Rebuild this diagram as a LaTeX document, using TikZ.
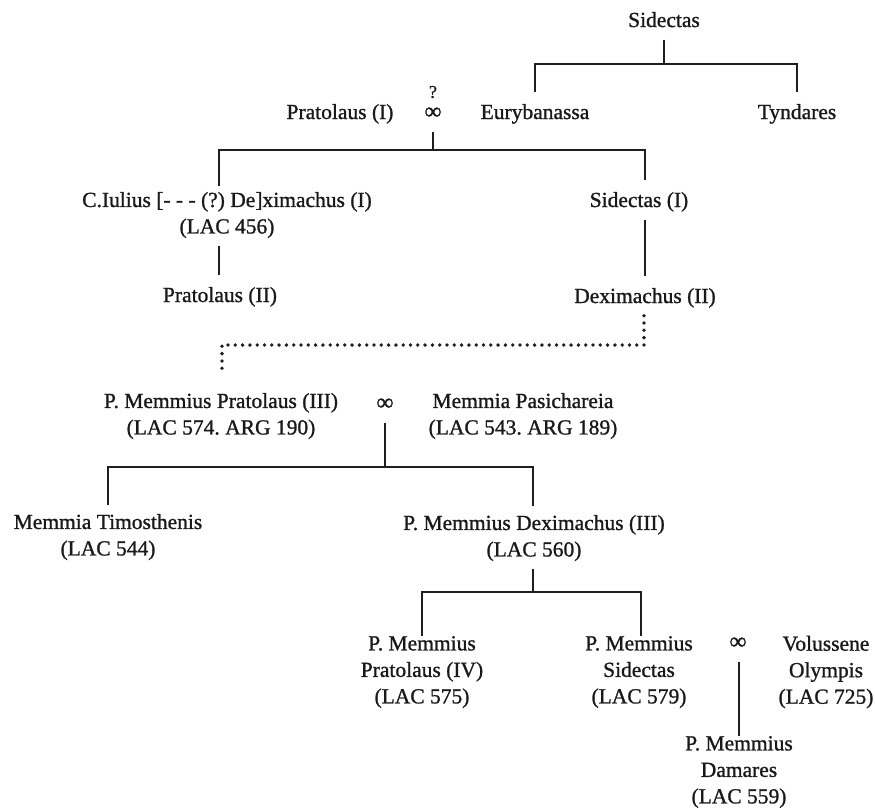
\documentclass[tikz,border=0pt]{standalone}
\usepackage{fontspec}
\setmainfont{Liberation Serif}[FakeBold=1.1]
\newcommand\myfont{\fontsize{21.5}{26.5}\selectfont\frenchspacing}
\newcommand\mytopstrut{\rule{0pt}{26.5pt}}
\newcommand\mybotstrut{\rule[-12.5pt]{0pt}{12.5pt}}
\tikzset{
  person/.style={inner sep=0pt, align=center, font=\myfont, text=black!90,
    execute at begin node=\mytopstrut, execute at end node=\mybotstrut},
  marr/.style={person, font=\fontsize{24}{26.5}\selectfont},
  qmark/.style={inner sep=0pt, font=\fontsize{18}{20}\selectfont, text=black!90},
  ln/.style={line width=2.7pt, draw=black!88},
  dotline/.style={line width=3.8pt, draw=black!88, line cap=round, dash pattern=on 0pt off 7.3pt}
}
\begin{document}
\begin{tikzpicture}[x=1pt,y=-1pt]
\useasboundingbox (0,0) rectangle (875,807);
% nodes
\node[person] (sid) at (664,20) {Sidectas};
\node[person] (eur) at (535,112) {Eurybanassa};
\node[person] (tyn) at (797,112) {Tyndares};
\node[person] (pra1) at (340,112) {Pratolaus (I)};
\node[marr] (m1) at (433,112) {∞};
\node[qmark] (q) at (433,92) {?};
\node[person] (iul) at (227,219) {C.Iulius [- - - (?) De]ximachus (I)\\(LAC 456)};
\node[person] (sid1) at (639,200) {Sidectas (I)};
\node[person] (pra2) at (220,295) {Pratolaus (II)};
\node[person] (dex2) at (645,296) {Deximachus (II)};
\node[person] (pra3) at (221,420) {P. Memmius Pratolaus (III)\\(LAC 574. ARG 190)};
\node[marr] (m2) at (385,403) {∞};
\node[person] (pas) at (523,420) {Memmia Pasichareia\\(LAC 543. ARG 189)};
\node[person] (tim) at (108,541) {Memmia Timosthenis\\(LAC 544)};
\node[person] (dex3) at (534,542) {P. Memmius Deximachus (III)\\(LAC 560)};
\node[person] (pra4) at (422,676) {P. Memmius\\Pratolaus (IV)\\(LAC 575)};
\node[person] (sid2) at (639,676) {P. Memmius\\Sidectas\\(LAC 579)};
\node[marr] (m3) at (738,642) {∞};
\node[person] (vol) at (826,676) {Volussene\\Olympis\\(LAC 725)};
\node[person] (dam) at (739,776) {P. Memmius\\Damares\\(LAC 559)};
% junctions
\coordinate (c1m) at (664,64); \coordinate (c1l) at (535,64); \coordinate (c1r) at (797,64);
\coordinate (c2m) at (433,150); \coordinate (c2l) at (219,150); \coordinate (c2r) at (645,150);
\coordinate (d1) at (644,345); \coordinate (d2) at (222,345); \coordinate (d3) at (222,372);
\coordinate (c3m) at (385,467); \coordinate (c3l) at (108,467); \coordinate (c3r) at (533,467);
\coordinate (c4m) at (533,592); \coordinate (c4l) at (422,592); \coordinate (c4r) at (641,592);
% connectors
\draw[ln] (sid.south) -- (c1m);
\draw[ln] (eur.north) -- (c1l) -- (c1r) -- (tyn.north);
\draw[ln] (m1.south) -- (c2m);
\draw[ln] ([yshift=6pt]iul.north -| c2l) -- (c2l) -- (c2r) -- (sid1.north -| c2r);
\draw[ln] (iul.south -| c2l) -- (pra2.north -| c2l);
\draw[ln] (sid1.south -| c2r) -- (dex2.north -| c2r);
\draw[dotline] (dex2.south -| d1) -- (d1) -- (d2) -- (d3);
\draw[ln] (m2.south) -- (c3m);
\draw[ln] ([yshift=9pt]tim.north) -- (c3l) -- (c3r) -- ([yshift=9pt]dex3.north -| c3r);
\draw[ln] (dex3.south -| c4m) -- (c4m);
\draw[ln] (pra4.north) -- (c4l) -- (c4r) -- (sid2.north -| c4r);
\draw[ln] (m3.south -| dam.north) -- (dam.north);
\end{tikzpicture}
\end{document}
